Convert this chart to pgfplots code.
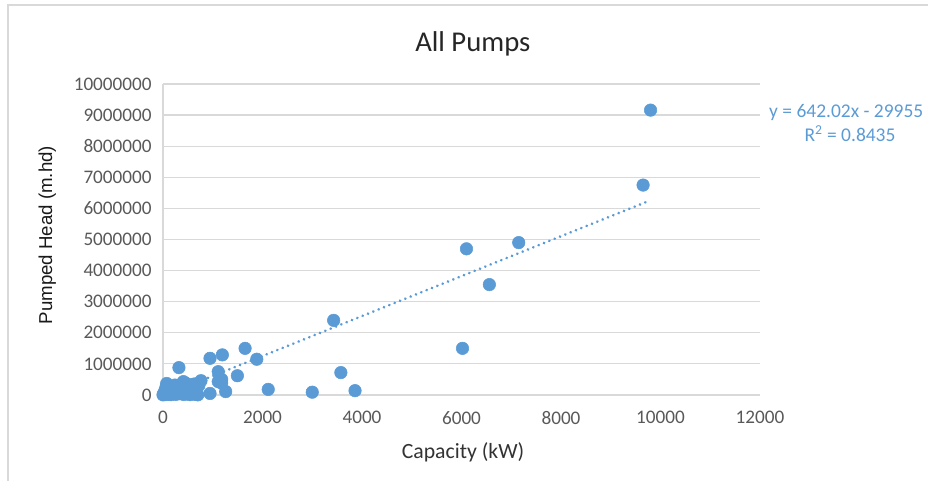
\documentclass[border=0pt]{standalone}
\usepackage{fontspec}
\setmainfont{Carlito}
\newfontfamily\labelfont{Liberation Sans}
\usepackage{pgfplots}
\pgfplotsset{compat=1.18}

\definecolor{ptblue}{HTML}{5B9BD5}
\definecolor{ticktext}{HTML}{595959}
\definecolor{gridgray}{HTML}{D9D9D9}

\begin{document}
\begin{tikzpicture}
\useasboundingbox (0,0) rectangle (696pt,360.75pt);
\draw[gridgray, line width=1.5pt] (6pt,-5pt) -- (6pt,357pt) -- (710pt,357pt);
\begin{axis}[
    at={(122.25pt,64.5pt)}, anchor=south west,
    scale only axis,
    width=447.75pt, height=233.25pt,
    xmin=0, xmax=12000,
    ymin=0, ymax=10000000,
    axis x line*=bottom, axis y line*=left,
    axis line style={gridgray, line width=0.9pt, -},
    ymajorgrids,
    major grid style={gridgray, line width=0.9pt},
    major tick length=0,
    xtick={0,2000,4000,6000,8000,10000,12000},
    xticklabels={0,2000,4000,6000,8000,10000,12000},
    ytick={0,1000000,2000000,3000000,4000000,5000000,6000000,7000000,8000000,9000000,10000000},
    yticklabels={0,1000000,2000000,3000000,4000000,5000000,6000000,7000000,8000000,9000000,10000000},
    scaled ticks=false,
    tick label style={font=\fontsize{14.4}{16}\selectfont, text=ticktext},
    yticklabel style={xshift=-5pt},
    xticklabel style={yshift=-8.5pt},
    title={All Pumps},
    title style={at={(axis description cs:0.519,1.103)}, anchor=center, yshift=0pt,
        font=\fontsize{21.5}{24}\selectfont, text=black!85},
    xlabel={Capacity (kW)},
    xlabel style={at={(axis description cs:0.5025,-0.183)}, anchor=center,
        font=\fontsize{16.3}{18}\selectfont, text=black!80},
    ylabel={Pumped Head (m.hd)},
    ylabel style={at={(axis description cs:-0.194,0.514)}, anchor=center, rotate=0,
        font=\labelfont\fontsize{14}{16}\selectfont, text=black!90},
    clip mode=individual,
]
% trendline y = 642.02x - 29955
\addplot[ptblue, line width=2.2pt, line cap=round, dash pattern=on 0.01pt off 4.3pt]
    coordinates {(47,0) (9780,6248800)};
% data
\addplot[only marks, mark=*, mark size=4.7pt, mark options={fill=ptblue, draw=ptblue}]
coordinates {
(9800,9160000) (9650,6750000) (7150,4900000) (6100,4700000) (6560,3550000)
(6020,1500000) (3430,2400000) (3575,720000) (3860,140000) (3000,90000)
(2115,180000) (1885,1150000) (1650,1500000) (1193,1290000) (945,1180000)
(1495,620000) (1110,750000) (1110,430000) (1180,380000) (1180,500000)
(1260,110000) (945,50000) (764,460000) (320,880000)
(0,5000) (10,40000) (20,20000) (30,80000) (40,150000) (50,10000) (60,250000)
(74,370000) (80,50000) (90,120000) (100,200000) (110,30000) (120,300000)
(130,90000) (150,160000) (160,10000) (180,250000) (200,60000) (220,140000)
(240,320000) (260,20000) (280,180000) (300,80000) (320,300000) (340,40000)
(360,220000) (380,360000) (400,100000) (410,430000) (420,15000) (440,260000)
(460,380000) (480,60000) (500,180000) (520,330000) (540,10000) (560,120000)
(580,280000) (600,70000) (620,350000) (640,20000) (643,350000) (660,200000)
(700,5000) (720,300000)
};
\node[anchor=west, text=ptblue, font=\fontsize{14.6}{16}\selectfont, inner sep=0pt]
    at (axis description cs:1.0150,0.907) {y = 642.02x - 29955};
\node[anchor=center, text=ptblue, font=\fontsize{14.6}{16}\selectfont]
    at (axis description cs:1.1508,0.839) {R\textsuperscript{2} = 0.8435};
\end{axis}
\end{tikzpicture}
\end{document}
